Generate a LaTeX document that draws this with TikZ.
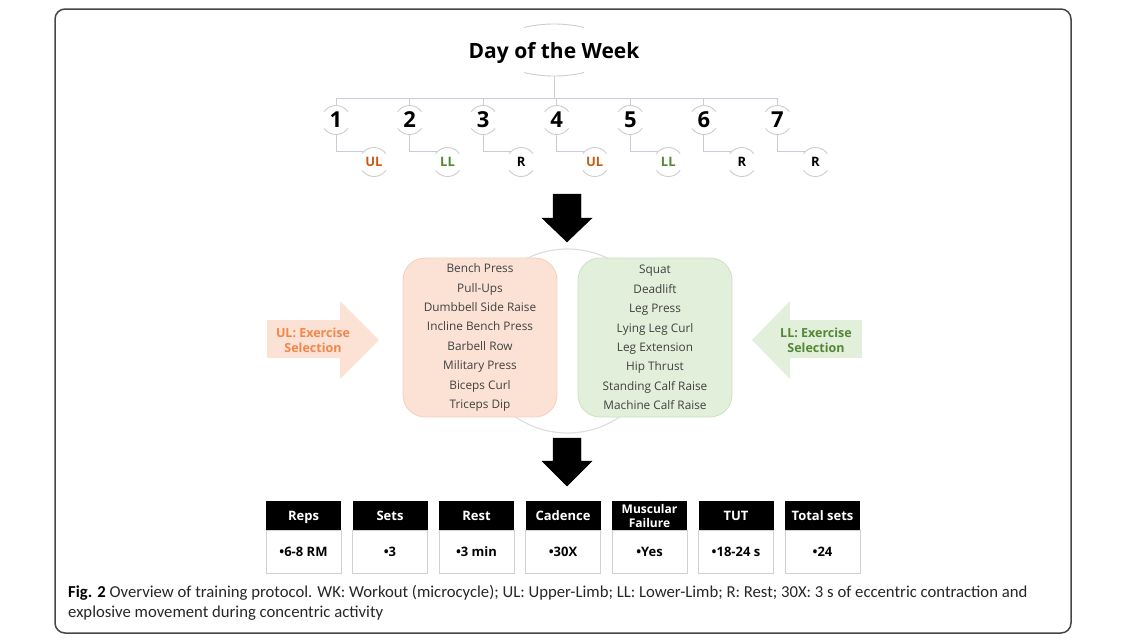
\documentclass[tikz,border=0pt]{standalone}
\usepackage{fontspec}
\setmainfont{Open Sans}
\newfontfamily\capfont{Carlito}
\usepackage{tikz}
\usetikzlibrary{positioning, calc}
\definecolor{linkgray}{RGB}{200,204,218}
\definecolor{rimgray}{RGB}{205,205,205}
\definecolor{ulorange}{RGB}{200,92,22}
\definecolor{llgreen}{RGB}{84,135,53}
\definecolor{ulpeach}{RGB}{251,226,213}
\definecolor{ulpeachdk}{RGB}{244,208,188}
\definecolor{llmint}{RGB}{226,239,218}
\definecolor{llmintdk}{RGB}{205,226,193}
\definecolor{arroworange}{RGB}{240,135,75}
\definecolor{boxtext}{RGB}{64,64,64}
\definecolor{framegray}{RGB}{70,70,70}

\begin{document}
\begin{tikzpicture}[
  x=1pt, y=1pt,
  rimmed/.style={draw=rimgray, line width=0.9pt,
               dash pattern=on 27.83pt off 17.71pt, dash phase=36.68pt},
  daynum/.style={circle, rimmed, minimum size=29pt, inner sep=0pt,
               font=\fontsize{22}{22}\selectfont\bfseries},
  sched/.style={circle, rimmed, minimum size=29pt, inner sep=0pt,
               font=\fontsize{13}{13}\selectfont\bfseries},
  link/.style={draw=linkgray, line width=0.9pt},
  exlist/.style={rectangle, rounded corners=22pt, line width=0.8pt,
               minimum width=154pt, minimum height=159pt, align=center,
               text=boxtext, font=\fontsize{11.8}{19.4}\selectfont},
  sidelbl/.style={align=center, font=\fontsize{12.5}{15}\selectfont\bfseries},
  thead/.style={rectangle, fill=black, text=white, minimum width=75pt,
               minimum height=29pt, inner sep=0pt, outer sep=0pt, align=center,
               font=\fontsize{13}{14.5}\selectfont\bfseries},
  tval/.style={rectangle, draw=black!18, line width=0.6pt, minimum width=75pt,
               minimum height=43pt, outer sep=0pt,
               font=\fontsize{13}{13}\selectfont\bfseries},
  bigarrow/.style={fill=black},
]
  \useasboundingbox (0,0) rectangle (1136,-640);
  \draw[framegray, line width=1.5pt, rounded corners=10pt] (55,-9) rectangle (1071,-633);

  % week tree
  \node[minimum height=52pt, text depth=0pt, font=\fontsize{21}{21}\selectfont\bfseries] (title) at (554,-50) {Day of the Week};
  \draw[draw=rimgray, line width=0.9pt] ($(title.center)+(120:60pt and 26pt)$)
    arc[start angle=120, end angle=60, x radius=60pt, y radius=26pt];
  \draw[draw=rimgray, line width=0.9pt] ($(title.center)+(240:60pt and 26pt)$)
    arc[start angle=240, end angle=300, x radius=60pt, y radius=26pt];

  \node[daynum] (d1) at (336,-120) {1};
  \node[daynum, right=43.67pt of d1] (d2) {2};
  \node[daynum, right=43.67pt of d2] (d3) {3};
  \node[daynum, right=43.67pt of d3] (d4) {4};
  \node[daynum, right=43.67pt of d4] (d5) {5};
  \node[daynum, right=43.67pt of d5] (d6) {6};
  \node[daynum, right=43.67pt of d6] (d7) {7};

  \node[sched, text=ulorange] (k1) at ($(d1)+(38,-42)$) {UL};
  \node[sched, text=llgreen] (k2) at ($(d2)+(38,-42)$) {LL};
  \node[sched] (k3) at ($(d3)+(38,-42)$) {R};
  \node[sched, text=ulorange] (k4) at ($(d4)+(38,-42)$) {UL};
  \node[sched, text=llgreen] (k5) at ($(d5)+(38,-42)$) {LL};
  \node[sched] (k6) at ($(d6)+(38,-42)$) {R};
  \node[sched] (k7) at ($(d7)+(38,-42)$) {R};

  \coordinate (bus) at (554,-98);
  \draw[link] (title.south) -- (bus);
  \draw[link] (d1.north |- bus) -- (d7.north |- bus);
  \foreach \i in {1,...,7} {
    \draw[link] (d\i.north |- bus) -- (d\i.north);
    \draw[link] (d\i.south) |- (k\i.135);
  }

  % exercise selection
  \draw[bigarrow] (553,-194) -- (581,-194) -- (581,-218) -- (592,-218)
    -- (567,-242) -- (542,-218) -- (553,-218) -- cycle;
  \draw[draw=black!13, line width=1.2pt] (567.5,-341) circle[radius=92];
  \node[exlist, fill=ulpeach, draw=ulpeachdk] (ulbox) at (480,-337.5)
    {Bench Press\\Pull-Ups\\Dumbbell Side Raise\\Incline Bench Press\\Barbell Row\\Military Press\\Biceps Curl\\Triceps Dip};
  \node[exlist, fill=llmint, draw=llmintdk] (llbox) at (655,-337.5)
    {Squat\\Deadlift\\Leg Press\\Lying Leg Curl\\Leg Extension\\Hip Thrust\\Standing Calf Raise\\Machine Calf Raise};

  \fill[ulpeach] (267,-320) -- (340,-320) -- (340,-301) -- (379,-340)
    -- (340,-379) -- (340,-358) -- (267,-358) -- cycle;
  \node[sidelbl, text=arroworange] (ulsel) at (313,-340) {UL: Exercise\\Selection};
  \fill[llmint] (862,-320) -- (790,-320) -- (790,-301) -- (752,-340)
    -- (790,-379) -- (790,-358) -- (862,-358) -- cycle;
  \node[sidelbl, text=llgreen] (llsel) at (816,-340) {LL: Exercise\\Selection};

  % protocol table
  \draw[bigarrow] (553,-438) -- (581,-438) -- (581,-461) -- (592,-461)
    -- (567,-486) -- (542,-461) -- (553,-461) -- cycle;
  \node[thead, text depth=0pt] (h1) at (303.5,-515.5) {Reps};
  \node[thead, right=11.5pt of h1] (h2) {Sets};
  \node[thead, right=11.5pt of h2] (h3) {Rest};
  \node[thead, right=11.5pt of h3] (h4) {Cadence};
  \node[thead, right=11.5pt of h4, font=\fontsize{12}{14}\selectfont\bfseries] (h5) {Muscular\\Failure};
  \node[thead, right=11.5pt of h5] (h6) {TUT};
  \node[thead, right=11.5pt of h6] (h7) {Total sets};
  \node[tval, below=0pt of h1] (v1) {•6-8 RM};
  \node[tval, below=0pt of h2] (v2) {•3};
  \node[tval, below=0pt of h3] (v3) {•3 min};
  \node[tval, below=0pt of h4] (v4) {•30X};
  \node[tval, below=0pt of h5, text depth=0pt] (v5) {•Yes};
  \node[tval, below=0pt of h6] (v6) {•18-24 s};
  \node[tval, below=0pt of h7] (v7) {•24};

  \node[anchor=north west, align=left, text=black!85, inner sep=0pt,
        font=\capfont\fontsize{16.7}{20}\selectfont] (caption) at (68,-585)
    {\textbf{\color{black}Fig. 2} Overview of training protocol. WK: Workout (microcycle); UL: Upper-Limb; LL: Lower-Limb; R: Rest; 30X: 3 s of eccentric contraction and\\
     explosive movement during concentric activity};
\end{tikzpicture}
\end{document}
